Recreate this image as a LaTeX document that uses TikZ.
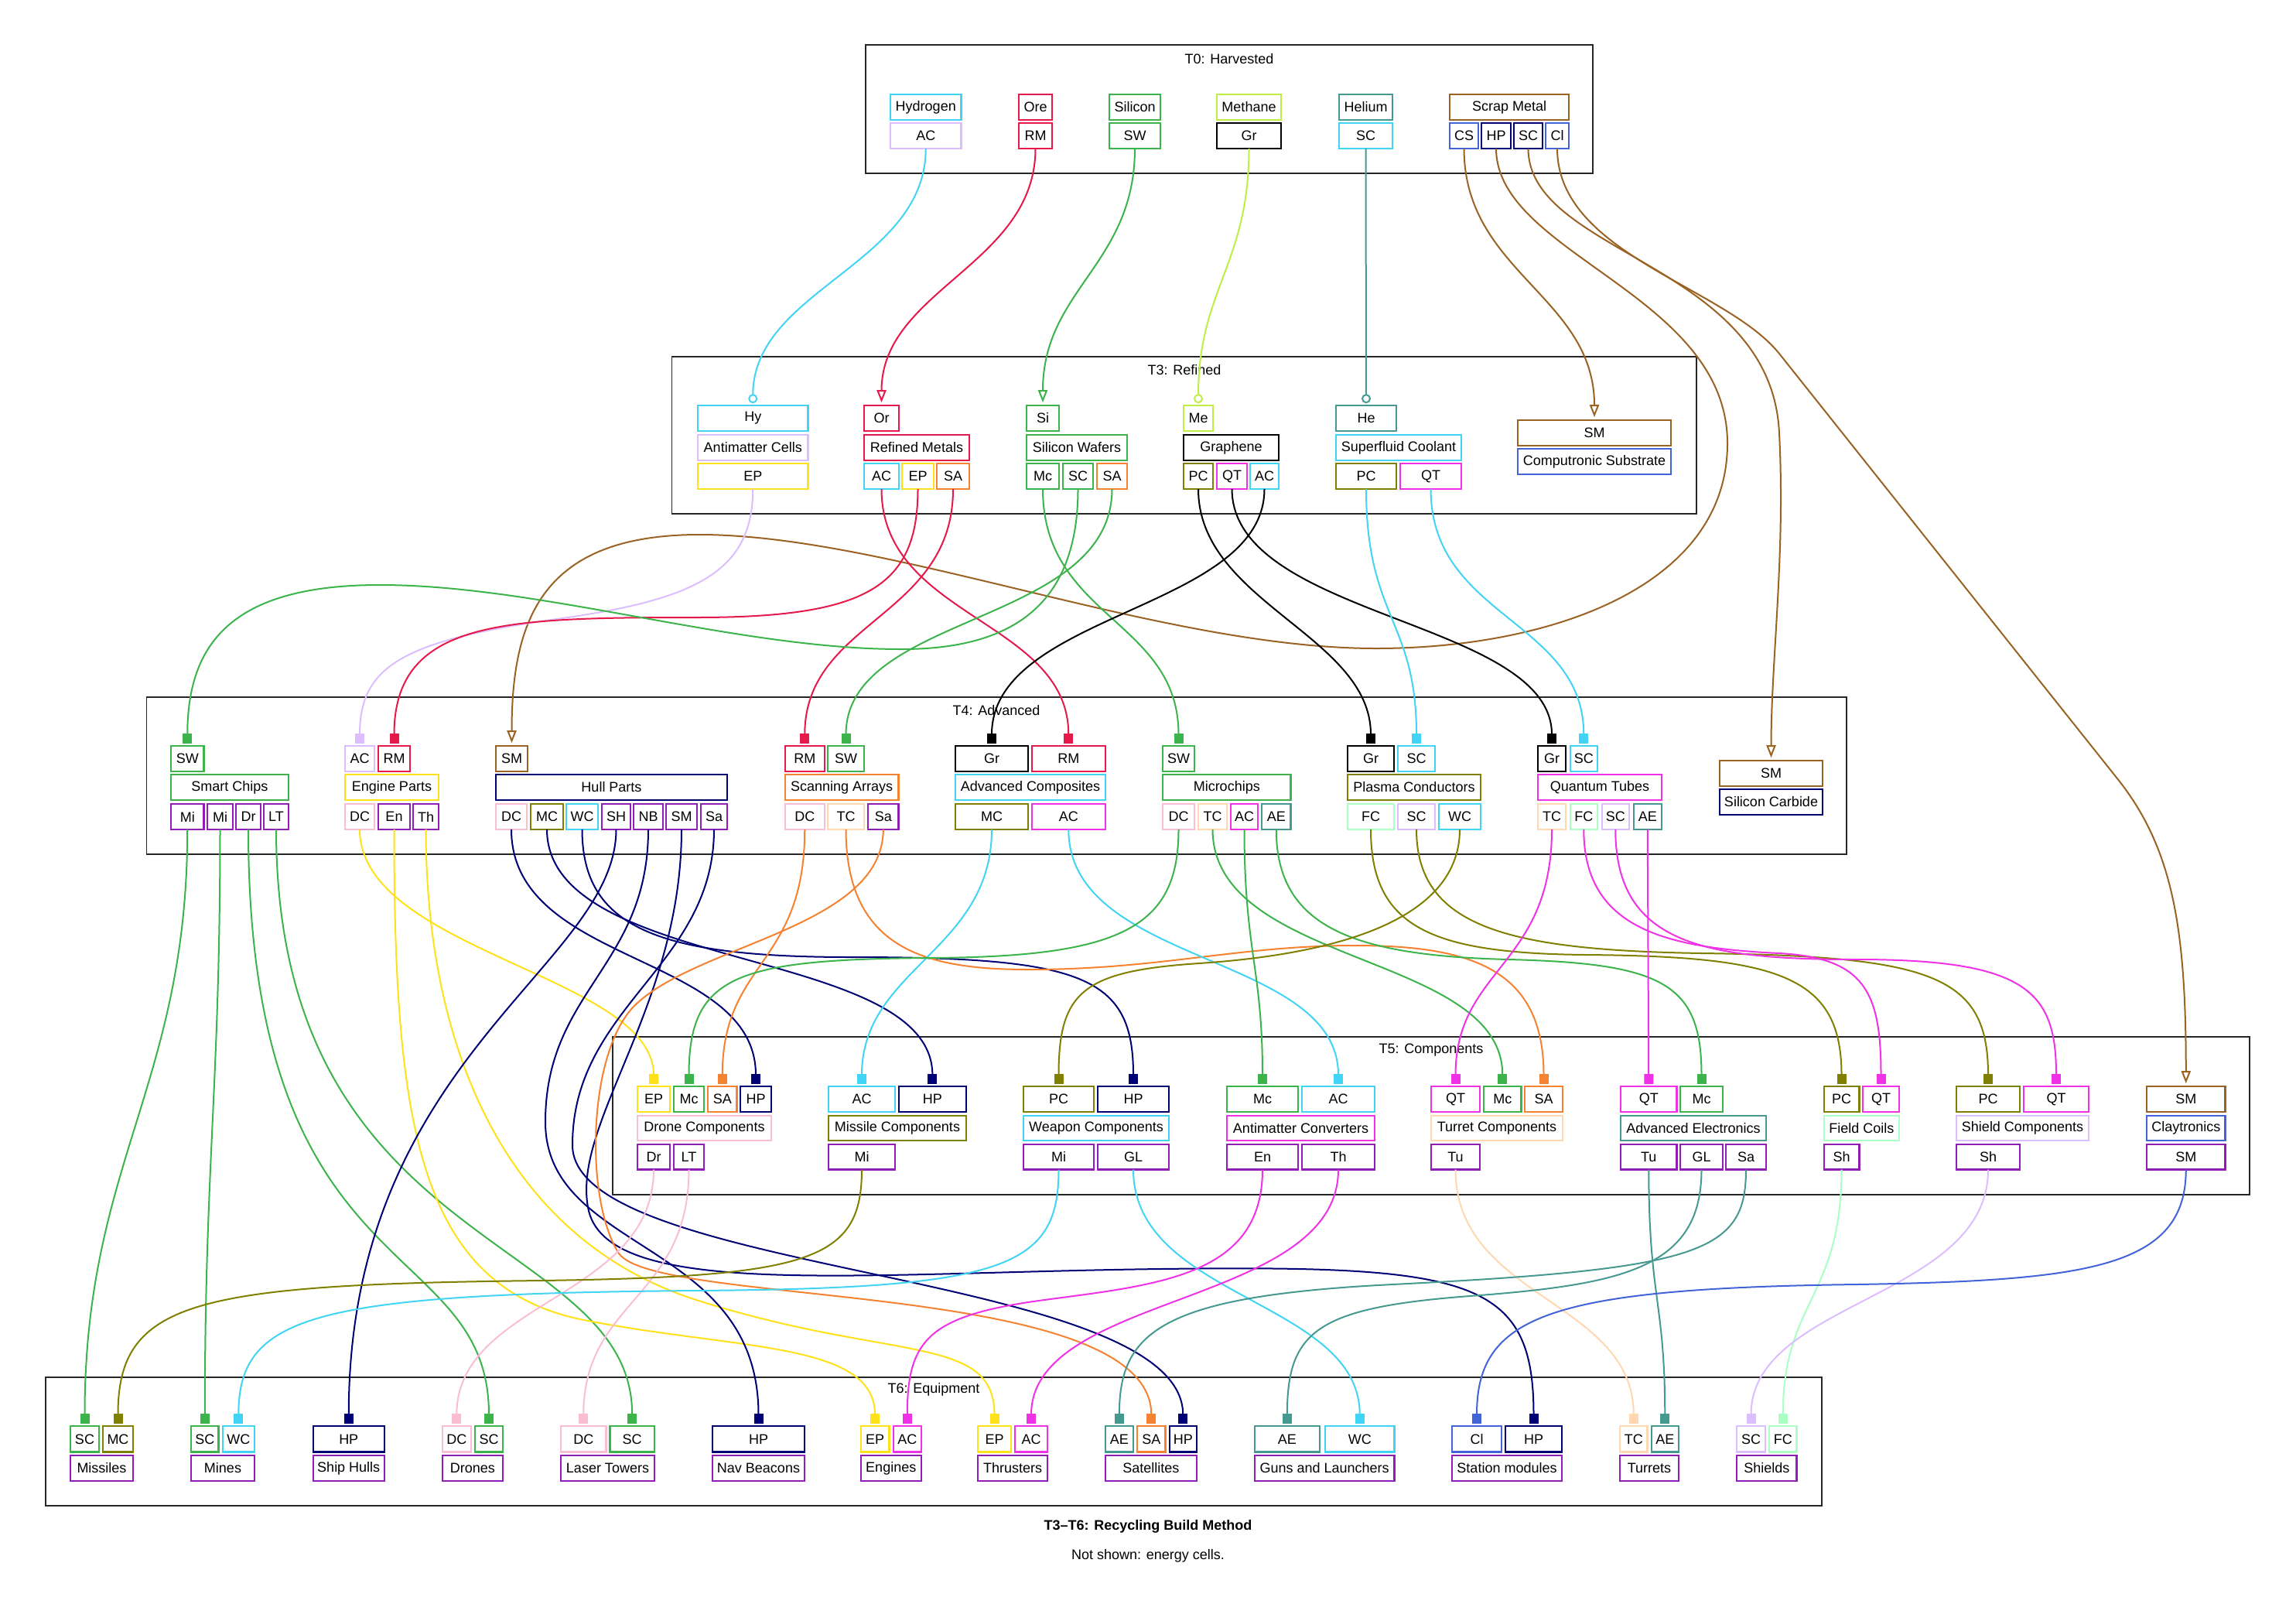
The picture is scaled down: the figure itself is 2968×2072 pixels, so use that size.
\documentclass[tikz,border=0pt]{standalone}
\usepackage{fontspec}
\setmainfont{Liberation Sans}
\usetikzlibrary{arrows.meta}

\definecolor{cRed}{HTML}{E6194B}
\definecolor{cGreen}{HTML}{3CB44B}
\definecolor{cYellow}{HTML}{FFE119}
\definecolor{cBlue}{HTML}{4363D8}
\definecolor{cOrange}{HTML}{F58231}
\definecolor{cPurple}{HTML}{911EB4}
\definecolor{cCyan}{HTML}{42D4F4}
\definecolor{cMagenta}{HTML}{F032E6}
\definecolor{cLime}{HTML}{BFEF45}
\definecolor{cPink}{HTML}{FABED4}
\definecolor{cTeal}{HTML}{469990}
\definecolor{cLav}{HTML}{DCBEFF}
\definecolor{cBrown}{HTML}{9A6324}
\definecolor{cMint}{HTML}{AAFFC3}
\definecolor{cOlive}{HTML}{808000}
\definecolor{cApricot}{HTML}{FFD8B1}
\definecolor{cNavy}{HTML}{000075}

\tikzset{
  cellbox/.style={rectangle,line width=2.4pt,inner sep=0pt,outer sep=0pt,
    font=\fontsize{18}{21}\selectfont},
  frame/.style={line width=1.6pt,draw=black!85},
  ctitle/.style={inner sep=0pt,font=\fontsize{18}{21}\selectfont},
  wire/.style={line width=2pt},
  bx/.style={-{Square[length=13pt,width=12pt]},shorten >=3pt},
  tri/.style={-{Triangle[open,length=16pt,width=12pt]},shorten >=4pt},
  circtip/.style={-{Circle[open,length=12pt]},shorten >=3pt},
}

% one table cell: name, colour, x1, x2, y1, y2, text
\newcommand\pcell[7]{\node[cellbox,draw=#2,minimum width={#4-#3-2.4},minimum height={#6-#5-2.4}] (#1) at ({(#3+#4)/2},{(#5+#6)/2}) {#7};}

\begin{document}
\begin{tikzpicture}[x=1pt,y=-1pt]
\fill[white] (0,0) rectangle (2968,2072);
\useasboundingbox (0,0) rectangle (2968,2072);

% ---------- tier frames ----------
\draw[frame] (1119,58) rectangle (2059,224);
\node[ctitle] (t0title) at (1589,76) {T0: Harvested};
\draw[frame] (868.5,460.7) rectangle (2193,664);
\node[ctitle] (t3title) at (1531,478) {T3: Refined};
\draw[frame] (189.6,900.7) rectangle (2387,1104);
\node[ctitle] (t4title) at (1288,918) {T4: Advanced};
\draw[frame] (792,1340) rectangle (2908,1544);
\node[ctitle] (t5title) at (1850,1357) {T5: Components};
\draw[frame] (58.7,1780) rectangle (2355,1946);
\node[ctitle] (t6title) at (1207,1796) {T6: Equipment};

% ---------- T0 ----------
\pcell{h-top}{cCyan}{1150}{1243.5}{121}{156}{Hydrogen}
\pcell{h-ac}{cLav}{1150}{1243.5}{158}{193}{AC}
\pcell{o-top}{cRed}{1316}{1361}{121}{156}{Ore}
\pcell{o-rm}{cRed}{1316}{1361}{158}{193}{RM}
\pcell{si-top}{cGreen}{1433}{1501}{121}{156}{Silicon}
\pcell{si-sw}{cGreen}{1433}{1501}{158}{193}{SW}
\pcell{me-top}{cLime}{1572}{1657}{121}{156}{Methane}
\pcell{me-gr}{black}{1572}{1657}{158}{193}{Gr}
\pcell{he-top}{cTeal}{1730}{1801}{121}{156}{Helium}
\pcell{he-sc}{cCyan}{1730}{1801}{158}{193}{SC}
\pcell{sm-top}{cBrown}{1873}{2029}{121}{156}{Scrap Metal}
\pcell{sm-cs}{cBlue}{1873}{1912}{158}{193}{CS}
\pcell{sm-hp}{cNavy}{1914}{1954}{158}{193}{HP}
\pcell{sm-sc}{cNavy}{1956}{1995}{158}{193}{SC}
\pcell{sm-cl}{cBlue}{1997}{2029}{158}{193}{Cl}

% ---------- T3 ----------
\pcell{hy-in}{cCyan}{901}{1045.5}{523}{558}{Hy}
\pcell{amc}{cLav}{901}{1045.5}{561}{596}{Antimatter Cells}
\pcell{amc-ep}{cYellow}{901}{1045.5}{598}{633}{EP}
\pcell{rf-in}{cRed}{1116}{1163}{523}{558}{Or}
\pcell{rf}{cRed}{1116}{1254}{561}{596}{Refined Metals}
\pcell{rf-ac}{cCyan}{1116}{1163}{598}{633}{AC}
\pcell{rf-ep}{cYellow}{1165}{1208}{598}{633}{EP}
\pcell{rf-sa}{cOrange}{1210}{1254}{598}{633}{SA}
\pcell{sw-in}{cGreen}{1326}{1370}{523}{558}{Si}
\pcell{sw}{cGreen}{1326}{1458}{561}{596}{Silicon Wafers}
\pcell{sw-mc}{cGreen}{1326}{1370}{598}{633}{Mc}
\pcell{sw-sc}{cGreen}{1373}{1414}{598}{633}{SC}
\pcell{sw-sa}{cOrange}{1417}{1458}{598}{633}{SA}
\pcell{gr-in}{cLime}{1529}{1569}{523}{558}{Me}
\pcell{gr}{black}{1529}{1654}{561}{596}{Graphene}
\pcell{gr-pc}{cOlive}{1529}{1569}{598}{633}{PC}
\pcell{gr-qt}{cMagenta}{1572}{1613}{598}{633}{QT}
\pcell{gr-ac}{cCyan}{1615}{1654}{598}{633}{AC}
\pcell{sfc-in}{cTeal}{1726}{1806}{523}{558}{He}
\pcell{sfc}{cCyan}{1726}{1890}{561}{596}{Superfluid Coolant}
\pcell{sfc-pc}{cOlive}{1726}{1806}{598}{633}{PC}
\pcell{sfc-qt}{cMagenta}{1809}{1890}{598}{633}{QT}
\pcell{cs-in}{cBrown}{1961}{2161}{542}{577}{SM}
\pcell{cs}{cBlue}{1961}{2161}{579}{614}{Computronic Substrate}

% ---------- T4 ----------
\pcell{sch-sw}{cGreen}{220}{264.5}{963}{998}{SW}
\pcell{sch}{cGreen}{220}{374}{1000}{1035}{Smart Chips}
\pcell{sch-mi1}{cPurple}{220}{264.5}{1038}{1073}{Mi}
\pcell{sch-mi2}{cPurple}{267}{302}{1038}{1073}{Mi}
\pcell{sch-dr}{cPurple}{304}{338}{1038}{1073}{Dr}
\pcell{sch-lt}{cPurple}{340}{374}{1038}{1073}{LT}
\pcell{ep-ac}{cLav}{445}{485}{963}{998}{AC}
\pcell{ep-rm}{cRed}{488}{531}{963}{998}{RM}
\pcell{ep}{cYellow}{445}{568}{1000}{1035}{Engine Parts}
\pcell{ep-dc}{cPink}{445}{485}{1038}{1073}{DC}
\pcell{ep-en}{cPurple}{488}{531}{1038}{1073}{En}
\pcell{ep-th}{cPurple}{533}{568}{1038}{1073}{Th}
\pcell{hp-in}{cBrown}{640}{683}{963}{998}{SM}
\pcell{hp}{cNavy}{640}{941}{1000}{1035}{Hull Parts}
\pcell{hp-dc}{cPink}{640}{682}{1038}{1073}{DC}
\pcell{hp-mc}{cOlive}{685}{729}{1038}{1073}{MC}
\pcell{hp-wc}{cCyan}{731}{774}{1038}{1073}{WC}
\pcell{hp-sh}{cPurple}{777}{816}{1038}{1073}{SH}
\pcell{hp-nb}{cPurple}{818}{858}{1038}{1073}{NB}
\pcell{hp-sm}{cPurple}{860}{902}{1038}{1073}{SM}
\pcell{hp-sa}{cPurple}{905}{941}{1038}{1073}{Sa}
\pcell{sa-rm}{cRed}{1013.5}{1067}{963}{998}{RM}
\pcell{sa-sw}{cGreen}{1069}{1118}{963}{998}{SW}
\pcell{sa}{cOrange}{1013.5}{1162.6}{1000}{1035}{Scanning Arrays}
\pcell{sa-dc}{cPink}{1013.5}{1067}{1038}{1073}{DC}
\pcell{sa-tc}{cApricot}{1069}{1118}{1038}{1073}{TC}
\pcell{sa-sa}{cPurple}{1121}{1162.6}{1038}{1073}{Sa}
\pcell{ac-gr}{black}{1234}{1330}{963}{998}{Gr}
\pcell{ac-rm}{cRed}{1332.5}{1430}{963}{998}{RM}
\pcell{ac}{cCyan}{1234}{1430}{1000}{1035}{Advanced Composites}
\pcell{ac-mc}{cOlive}{1234}{1330}{1038}{1073}{MC}
\pcell{ac-ac}{cMagenta}{1332.5}{1430}{1038}{1073}{AC}
\pcell{mc-sw}{cGreen}{1502}{1545}{963}{998}{SW}
\pcell{mc}{cGreen}{1502}{1669.5}{1000}{1035}{Microchips}
\pcell{mc-dc}{cPink}{1502}{1545}{1038}{1073}{DC}
\pcell{mc-tc}{cApricot}{1548}{1587}{1038}{1073}{TC}
\pcell{mc-ac}{cMagenta}{1590}{1627}{1038}{1073}{AC}
\pcell{mc-ae}{cTeal}{1630}{1669.5}{1038}{1073}{AE}
\pcell{pc-gr}{black}{1741}{1803}{963}{998}{Gr}
\pcell{pc-sc}{cCyan}{1806}{1856}{963}{998}{SC}
\pcell{pc}{cOlive}{1741}{1915}{1000}{1035}{Plasma Conductors}
\pcell{pc-fc}{cMint}{1741}{1803}{1038}{1073}{FC}
\pcell{pc-shc}{cLav}{1806}{1856}{1038}{1073}{SC}
\pcell{pc-wc}{cCyan}{1859}{1915}{1038}{1073}{WC}
\pcell{qt-gr}{black}{1987}{2025}{963}{998}{Gr}
\pcell{qt-sc}{cCyan}{2028.5}{2066}{963}{998}{SC}
\pcell{qt}{cMagenta}{1987}{2149}{1000}{1035}{Quantum Tubes}
\pcell{qt-tc}{cApricot}{1987}{2025}{1038}{1073}{TC}
\pcell{qt-fc}{cMint}{2028.5}{2066}{1038}{1073}{FC}
\pcell{qt-shc}{cLav}{2069.5}{2107}{1038}{1073}{SC}
\pcell{qt-ae}{cTeal}{2110.5}{2149}{1038}{1073}{AE}
\pcell{scb-in}{cBrown}{2222}{2357}{982}{1017}{SM}
\pcell{scb}{cNavy}{2222}{2357}{1019}{1054}{Silicon Carbide}

% ---------- T5 ----------
\pcell{dc-ep}{cYellow}{823}{867}{1403}{1438}{EP}
\pcell{dc-mc}{cGreen}{870}{911}{1403}{1438}{Mc}
\pcell{dc-sa}{cOrange}{914}{953.6}{1403}{1438}{SA}
\pcell{dc-hp}{cNavy}{956}{998}{1403}{1438}{HP}
\pcell{dc}{cPink}{823}{998}{1440.5}{1475.3}{Drone Components}
\pcell{dc-dr}{cPurple}{823}{867}{1477.7}{1512.7}{Dr}
\pcell{dc-lt}{cPurple}{870}{911}{1477.7}{1512.7}{LT}
\pcell{mic-ac}{cCyan}{1070}{1158}{1403}{1438}{AC}
\pcell{mic-hp}{cNavy}{1160.7}{1250}{1403}{1438}{HP}
\pcell{mic}{cOlive}{1070}{1250}{1440.5}{1475.3}{Missile Components}
\pcell{mic-mi}{cPurple}{1070}{1158}{1477.7}{1512.7}{Mi}
\pcell{wc-pc}{cOlive}{1322}{1415}{1403}{1438}{PC}
\pcell{wc-hp}{cNavy}{1418}{1512}{1403}{1438}{HP}
\pcell{wc}{cCyan}{1322}{1512}{1440.5}{1475.3}{Weapon Components}
\pcell{wc-mi}{cPurple}{1322}{1415}{1477.7}{1512.7}{Mi}
\pcell{wc-gl}{cPurple}{1418}{1512}{1477.7}{1512.7}{GL}
\pcell{acv-mc}{cGreen}{1585}{1679}{1403}{1438}{Mc}
\pcell{acv-ac}{cCyan}{1682}{1778}{1403}{1438}{AC}
\pcell{acv}{cMagenta}{1585}{1778}{1440.5}{1475.3}{Antimatter Converters}
\pcell{acv-en}{cPurple}{1585}{1679}{1477.7}{1512.7}{En}
\pcell{acv-th}{cPurple}{1682}{1778}{1477.7}{1512.7}{Th}
\pcell{tc-qt}{cMagenta}{1849}{1914}{1403}{1438}{QT}
\pcell{tc-mc}{cGreen}{1917}{1967.5}{1403}{1438}{Mc}
\pcell{tc-sa}{cOrange}{1970}{2021}{1403}{1438}{SA}
\pcell{tc}{cApricot}{1849}{2021}{1440.5}{1475.3}{Turret Components}
\pcell{tc-tu}{cPurple}{1849}{1914}{1477.7}{1512.7}{Tu}
\pcell{ae-qt}{cMagenta}{2094}{2168.6}{1403}{1438}{QT}
\pcell{ae-mc}{cGreen}{2171}{2228}{1403}{1438}{Mc}
\pcell{ae}{cTeal}{2094}{2284}{1440.5}{1475.3}{Advanced Electronics}
\pcell{ae-tu}{cPurple}{2094}{2168.6}{1477.7}{1512.7}{Tu}
\pcell{ae-gl}{cPurple}{2171}{2228}{1477.7}{1512.7}{GL}
\pcell{ae-sa}{cPurple}{2230}{2284}{1477.7}{1512.7}{Sa}
\pcell{fc-pc}{cOlive}{2356.5}{2404.5}{1403}{1438}{PC}
\pcell{fc-qt}{cMagenta}{2407}{2456}{1403}{1438}{QT}
\pcell{fc}{cMint}{2356.5}{2456}{1440.5}{1475.3}{Field Coils}
\pcell{fc-sh}{cPurple}{2356.5}{2404.5}{1477.7}{1512.7}{Sh}
\pcell{shc-pc}{cOlive}{2528}{2612}{1403}{1438}{PC}
\pcell{shc-qt}{cMagenta}{2615}{2701}{1403}{1438}{QT}
\pcell{shc}{cLav}{2528}{2701}{1440.5}{1475.3}{Shield Components}
\pcell{shc-sh}{cPurple}{2528}{2612}{1477.7}{1512.7}{Sh}
\pcell{cl-in}{cBrown}{2774}{2877.5}{1403}{1438}{SM}
\pcell{cl}{cBlue}{2774}{2877.5}{1440.5}{1475.3}{Claytronics}
\pcell{cl-sm}{cPurple}{2774}{2877.5}{1477.7}{1512.7}{SM}

% ---------- T6 ----------
\pcell{mis-sc}{cGreen}{90}{129}{1842}{1877.7}{SC}
\pcell{mis-mc}{cOlive}{132}{173}{1842}{1877.7}{MC}
\pcell{mis}{cPurple}{90}{173}{1880}{1915}{Missiles}
\pcell{min-sc}{cGreen}{246}{283.6}{1842}{1877.7}{SC}
\pcell{min-wc}{cCyan}{286.6}{330}{1842}{1877.7}{WC}
\pcell{min}{cPurple}{246}{330}{1880}{1915}{Mines}
\pcell{shu-hp}{cNavy}{403.5}{498}{1842}{1877.7}{HP}
\pcell{shu}{cPurple}{403.5}{498}{1880}{1915}{Ship Hulls}
\pcell{dro-dc}{cPink}{570.6}{610}{1842}{1877.7}{DC}
\pcell{dro-sc}{cGreen}{613}{651}{1842}{1877.7}{SC}
\pcell{dro}{cPurple}{570.6}{651}{1880}{1915}{Drones}
\pcell{ltw-dc}{cPink}{724}{784.5}{1842}{1877.7}{DC}
\pcell{ltw-sc}{cGreen}{787.4}{847}{1842}{1877.7}{SC}
\pcell{ltw}{cPurple}{724}{847}{1880}{1915}{Laser Towers}
\pcell{nb-hp}{cNavy}{920}{1041}{1842}{1877.7}{HP}
\pcell{nb}{cPurple}{920}{1041}{1880}{1915}{Nav Beacons}
\pcell{eng-ep}{cYellow}{1111.5}{1150.6}{1842}{1877.7}{EP}
\pcell{eng-ac}{cMagenta}{1153.6}{1192}{1842}{1877.7}{AC}
\pcell{eng}{cPurple}{1111.5}{1192}{1880}{1915}{Engines}
\pcell{thr-ep}{cYellow}{1263}{1308}{1842}{1877.7}{EP}
\pcell{thr-ac}{cMagenta}{1311}{1355}{1842}{1877.7}{AC}
\pcell{thr}{cPurple}{1263}{1355}{1880}{1915}{Thrusters}
\pcell{sat-ae}{cTeal}{1427.7}{1466}{1842}{1877.7}{AE}
\pcell{sat-sa}{cOrange}{1469}{1507.6}{1842}{1877.7}{SA}
\pcell{sat-hp}{cNavy}{1510.5}{1548}{1842}{1877.7}{HP}
\pcell{sat}{cPurple}{1427.7}{1548}{1880}{1915}{Satellites}
\pcell{gun-ae}{cTeal}{1620.8}{1707}{1842}{1877.7}{AE}
\pcell{gun-wc}{cCyan}{1712}{1803.5}{1842}{1877.7}{WC}
\pcell{gun}{cPurple}{1620.8}{1803.5}{1880}{1915}{Guns and Launchers}
\pcell{stm-cl}{cBlue}{1876}{1942}{1842}{1877.7}{Cl}
\pcell{stm-hp}{cNavy}{1945}{2020}{1842}{1877.7}{HP}
\pcell{stm}{cPurple}{1876}{2020}{1880}{1915}{Station modules}
\pcell{tur-tc}{cApricot}{2093}{2130.5}{1842}{1877.7}{TC}
\pcell{tur-ae}{cTeal}{2133.5}{2171}{1842}{1877.7}{AE}
\pcell{tur}{cPurple}{2093}{2171}{1880}{1915}{Turrets}
\pcell{shd-sc}{cLav}{2244}{2283}{1842}{1877.7}{SC}
\pcell{shd-fc}{cMint}{2286}{2323.6}{1842}{1877.7}{FC}
\pcell{shd}{cPurple}{2244}{2323.6}{1880}{1915}{Shields}

% ---------- caption ----------
\node[ctitle,font=\fontsize{18}{21}\selectfont\bfseries] (cap) at (1484,1973) {T3–T6: Recycling Build Method};
\node[ctitle] (capnote) at (1484,2011) {Not shown: energy cells.};

% ---------- T0 -> T3 ----------
\draw[wire,cCyan,circtip] (h-ac.south) .. controls +(0,150) and +(0,-150) .. (hy-in.north);
\draw[wire,cRed,tri] (o-rm.south) .. controls +(0,150) and +(0,-150) .. (rf-in.north);
\draw[wire,cGreen,tri] (si-sw.south) .. controls +(0,150) and +(0,-150) .. (sw-in.north);
\draw[wire,cLime,circtip] (me-gr.south) .. controls +(0,150) and +(0,-150) .. (gr-in.north);
\draw[wire,cTeal,circtip] (he-sc.south) -- (sfc-in.north);
\draw[wire,cBrown,tri] (sm-cs.south) .. controls +(0,160) and +(0,-160) .. (cs-in.north);
\draw[wire,cBrown,tri] (sm-hp.south) .. controls +(0,137) and (2233,380) .. (2233,573)
   .. controls (2233,760) and (2000,838) .. (1779,838)
   .. controls (1500,838) and (1150,691) .. (904,691)
   .. controls (700,691) and +(0,-163) .. (hp-in.north);
\draw[wire,cBrown,tri] (sm-sc.south) .. controls +(0,137) and (2290,340) .. (2300,560)
   .. controls (2308,720) and +(0,-132) .. (scb-in.north);
\draw[wire,cBrown,tri] (sm-cl.south) .. controls +(0,137) and (2230,370) .. (2300,457)
   -- (2740,1010) .. controls (2810,1100) and +(0,-200) .. (cl-in.north);

% ---------- T3 -> T4 ----------
\draw[wire,cLav,bx] (amc-ep.south) .. controls +(0,107) and (900,775) .. (720,800)
   .. controls (520,828) and +(0,-103) .. (ep-ac.north);
\draw[wire,cRed,bx] (rf-ac.south) .. controls +(0,167) and +(0,-163) .. (ac-rm.north);
\draw[wire,cRed,bx] (rf-ep.south) .. controls +(0,127) and (1120,798) .. (900,798)
   .. controls (650,798) and +(0,-163) .. (ep-rm.north);
\draw[wire,cRed,bx] (rf-sa.south) .. controls +(0,167) and +(0,-163) .. (sa-rm.north);
\draw[wire,cGreen,bx] (sw-mc.south) .. controls +(0,167) and +(0,-163) .. (mc-sw.north);
\draw[wire,cGreen,bx] (sw-sc.south) .. controls +(0,157) and (1300,839) .. (1165,839)
   .. controls (950,839) and (700,756) .. (491,756)
   .. controls (300,756) and +(0,-133) .. (sch-sw.north);
\draw[wire,cGreen,bx] (sw-sa.south) .. controls +(0,177) and +(0,-173) .. (sa-sw.north);
\draw[wire,black,bx] (gr-pc.south) .. controls +(0,147) and +(0,-143) .. (pc-gr.north);
\draw[wire,black,bx] (gr-qt.south) .. controls +(0,167) and +(0,-163) .. (qt-gr.north);
\draw[wire,black,bx] (gr-ac.south) .. controls +(0,157) and +(0,-173) .. (ac-gr.north);
\draw[wire,cCyan,bx] (sfc-pc.south) .. controls +(0,167) and +(0,-163) .. (pc-sc.north);
\draw[wire,cCyan,bx] (sfc-qt.south) .. controls +(0,167) and +(0,-163) .. (qt-sc.north);

% ---------- T4 -> T5 / T6 ----------
\draw[wire,cGreen,bx] (sch-mi1.south) .. controls +(0,330) and +(0,-340) .. (mis-sc.north);
\draw[wire,cGreen,bx] (sch-mi2.south) .. controls +(0,330) and +(0,-340) .. (min-sc.north);
\draw[wire,cGreen,bx] (sch-dr.south) .. controls +(0,600) and +(0,-250) .. (dro-sc.north);
\draw[wire,cGreen,bx] (sch-lt.south) .. controls +(0,550) and +(0,-250) .. (ltw-sc.north);

\draw[wire,cYellow,bx] (ep-dc.south) .. controls +(0,157) and +(0,-143) .. (dc-ep.north);
\draw[wire,cYellow,bx] (ep-en.south) .. controls +(0,377) and (540,1660) .. (750,1705)
   .. controls (950,1745) and +(0,-110) .. (eng-ep.north);
\draw[wire,cYellow,bx] (ep-th.south) .. controls +(0,277) and (650,1600) .. (900,1680)
   .. controls (1150,1760) and +(0,-120) .. (thr-ep.north);

\draw[wire,cNavy,bx] (hp-dc.south) .. controls +(0,177) and +(0,-173) .. (dc-hp.north);
\draw[wire,cNavy,bx] (hp-mc.south) .. controls +(0,187) and +(0,-183) .. (mic-hp.north);
\draw[wire,cNavy,bx] (hp-wc.south) .. controls +(0,127) and (850,1237) .. (1100,1237)
   .. controls (1400,1237) and +(0,-143) .. (wc-hp.north);
\draw[wire,cNavy,bx] (hp-sh.south) .. controls +(0,177) and +(0,-477) .. (shu-hp.north);
\draw[wire,cNavy,bx] (hp-nb.south) .. controls +(0,177) and (705,1280) .. (705,1450)
   .. controls (705,1620) and +(0,-242) .. (nb-hp.north);
\draw[wire,cNavy,bx] (hp-sm.south) .. controls +(0,227) and (740,1450) .. (760,1560)
   .. controls (780,1680) and (1100,1645) .. (1500,1640)
   .. controls (1900,1635) and +(0,-192) .. (stm-hp.north);
\draw[wire,cNavy,bx] (hp-sa.south) .. controls +(0,177) and (740,1300) .. (740,1480)
   .. controls (740,1650) and +(0,-202) .. (sat-hp.north);

\draw[wire,cOrange,bx] (sa-dc.south) .. controls +(0,177) and +(0,-163) .. (dc-sa.north);
\draw[wire,cOrange,bx] (sa-tc.south) .. controls +(0,157) and (1200,1253) .. (1330,1253)
   .. controls (1500,1253) and (1600,1222) .. (1751,1222)
   .. controls (1900,1222) and +(0,-153) .. (tc-sa.north);
\draw[wire,cOrange,bx] (sa-sa.south) .. controls +(0,127) and (900,1220) .. (820,1300)
   .. controls (760,1360) and (755,1550) .. (800,1620)
   .. controls (850,1690) and +(0,-190) .. (sat-sa.north);

\draw[wire,cCyan,bx] (ac-mc.south) .. controls +(0,157) and +(0,-153) .. (mic-ac.north);
\draw[wire,cCyan,bx] (ac-ac.south) .. controls +(0,177) and +(0,-173) .. (acv-ac.north);

\draw[wire,cGreen,bx] (mc-dc.south) .. controls +(0,127) and (1450,1237) .. (1200,1238)
   .. controls (950,1240) and +(0,-143) .. (dc-mc.north);
\draw[wire,cGreen,bx] (mc-tc.south) .. controls +(0,177) and +(0,-173) .. (tc-mc.north);
\draw[wire,cGreen,bx] (mc-ac.south) .. controls +(0,157) and +(0,-153) .. (acv-mc.north);
\draw[wire,cGreen,bx] (mc-ae.south) .. controls +(0,127) and (1750,1235) .. (1950,1240)
   .. controls (2150,1245) and +(0,-133) .. (ae-mc.north);

\draw[wire,cOlive,bx] (pc-fc.south) .. controls +(0,127) and (1850,1232) .. (2050,1234)
   .. controls (2300,1236) and +(0,-143) .. (fc-pc.north);
\draw[wire,cOlive,bx] (pc-shc.south) .. controls +(0,127) and (1950,1228) .. (2200,1232)
   .. controls (2500,1236) and +(0,-143) .. (shc-pc.north);
\draw[wire,cOlive,bx] (pc-wc.south) .. controls +(0,127) and (1700,1235) .. (1550,1245)
   .. controls (1400,1255) and +(0,-123) .. (wc-pc.north);

\draw[wire,cMagenta,bx] (qt-tc.south) .. controls +(0,177) and +(0,-153) .. (tc-qt.north);
\draw[wire,cMagenta,bx] (qt-fc.south) .. controls +(0,127) and (2150,1225) .. (2300,1232)
   .. controls (2410,1238) and +(0,-123) .. (fc-qt.north);
\draw[wire,cMagenta,bx] (qt-shc.south) .. controls +(0,147) and (2200,1240) .. (2400,1240)
   .. controls (2620,1240) and +(0,-123) .. (shc-qt.north);
\draw[wire,cMagenta,bx] (qt-ae.south) -- (ae-qt.north);

% ---------- T5 -> T6 ----------
\draw[wire,cPink,bx] (dc-dr.south) .. controls +(0,167) and +(0,-163) .. (dro-dc.north);
\draw[wire,cPink,bx] (dc-lt.south) .. controls +(0,167) and +(0,-163) .. (ltw-dc.north);
\draw[wire,cOlive,bx] (mic-mi.south) .. controls +(0,117) and (1050,1650) .. (700,1655)
   .. controls (250,1660) and +(0,-162) .. (mis-mc.north);
\draw[wire,cCyan,bx] (wc-mi.south) .. controls +(0,127) and (1300,1665) .. (900,1668)
   .. controls (400,1672) and +(0,-142) .. (min-wc.north);
\draw[wire,cCyan,bx] (wc-gl.south) .. controls +(0,167) and +(0,-163) .. (gun-wc.north);
\draw[wire,cMagenta,bx] (acv-en.south) .. controls +(0,137) and (1500,1660) .. (1350,1680)
   .. controls (1200,1700) and +(0,-112) .. (eng-ac.north);
\draw[wire,cMagenta,bx] (acv-th.south) .. controls +(0,177) and +(0,-173) .. (thr-ac.north);
\draw[wire,cApricot,bx] (tc-tu.south) .. controls +(0,167) and +(0,-163) .. (tur-tc.north);
\draw[wire,cTeal,bx] (ae-tu.south) .. controls +(0,167) and +(0,-163) .. (tur-ae.north);
\draw[wire,cTeal,bx] (ae-gl.south) .. controls +(0,127) and (2100,1660) .. (1900,1675)
   .. controls (1700,1690) and +(0,-122) .. (gun-ae.north);
\draw[wire,cTeal,bx] (ae-sa.south) .. controls +(0,107) and (2200,1640) .. (1800,1660)
   .. controls (1500,1675) and +(0,-122) .. (sat-ae.north);
\draw[wire,cMint,bx] (fc-sh.south) .. controls +(0,167) and +(0,-163) .. (shd-fc.north);
\draw[wire,cLav,bx] (shc-sh.south) .. controls +(0,167) and +(0,-163) .. (shd-sc.north);
\draw[wire,cBlue,bx] (cl-sm.south) .. controls +(0,127) and (2700,1655) .. (2400,1660)
   .. controls (2000,1665) and +(0,-142) .. (stm-cl.north);
\end{tikzpicture}
\end{document}
